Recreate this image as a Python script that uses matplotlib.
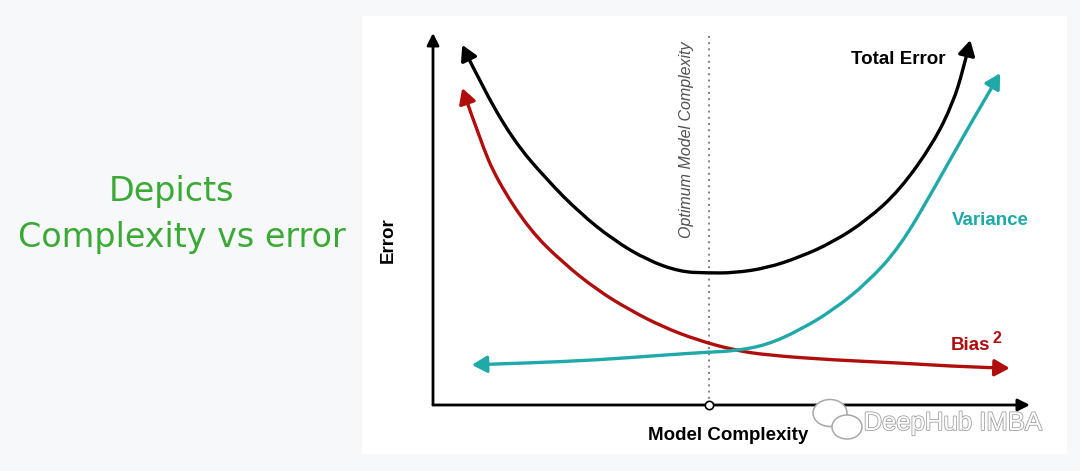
import matplotlib.pyplot as plt
from matplotlib.patches import FancyArrowPatch, Rectangle, Ellipse
from matplotlib.path import Path
import matplotlib.patheffects as pe

# 读图估计的曲线点 (模型复杂度 0-10, 误差 0-10)
total_x = [0.49, 0.79, 1.34, 1.91, 2.46, 3.02, 3.58, 4.14, 4.59, 5.03, 5.59, 6.15, 6.70, 7.27, 7.82, 8.38, 8.71, 8.88, 9.00]
total_y = [9.68, 8.66, 7.12, 6.05, 5.16, 4.44, 3.90, 3.58, 3.55, 3.55, 3.68, 3.98, 4.38, 4.97, 5.78, 7.04, 8.12, 9.01, 9.81]
bias_x = [0.49, 0.79, 1.07, 1.62, 2.18, 2.75, 3.30, 3.85, 4.42, 5.03, 5.59, 6.70, 7.82, 8.94, 9.66]
bias_y = [8.52, 7.12, 6.05, 4.70, 3.82, 3.09, 2.55, 2.10, 1.75, 1.48, 1.34, 1.21, 1.13, 1.02, 0.99]
var_x = [0.65, 1.62, 2.75, 3.85, 4.59, 5.03, 5.59, 6.15, 6.70, 7.27, 7.82, 8.38, 8.94, 9.50]
var_y = [1.08, 1.13, 1.21, 1.34, 1.42, 1.45, 1.61, 2.02, 2.55, 3.28, 4.25, 5.78, 7.39, 8.92]
optimum_x = 4.62

plot_font = 'Liberation Sans'
fig = plt.figure(figsize=(10.8, 4.71), dpi=100, facecolor='#f7f8fa')
# 白色面板
fig.add_artist(Rectangle((362/1080, 1-454/471), (1067-362)/1080, (454-16)/471,
                         transform=fig.transFigure, facecolor='white', edgecolor='none', zorder=0))

ax = fig.add_axes([433/1080, 1-405/471, (1030-433)/1080, (405-33)/471])
ax.set_xlim(0, 10)
ax.set_ylim(0, 10)
ax.axis('off')

# 坐标轴箭头
ax_arrow = dict(arrowstyle='-|>', lw=2, color='black', mutation_scale=18, shrinkA=0, shrinkB=0)
ax.annotate('', xy=(0, 10), xytext=(0, 0), arrowprops=ax_arrow, annotation_clip=False)
ax.annotate('', xy=(10, 0), xytext=(0, 0), arrowprops=ax_arrow, annotation_clip=False)

# 最优复杂度虚线
ax.plot([optimum_x, optimum_x], [0, 9.95], color='#808080', lw=1.4, ls=(0, (1, 2.2)), zorder=1)
ax.plot([optimum_x], [0], marker='o', ms=6, mfc='white', mec='black', mew=1.2, zorder=5, clip_on=False)

def smooth_path(xs, ys):
    # 二次贝塞尔平滑: 读出的点作控制点
    verts = [(xs[0], ys[0])]
    codes = [Path.MOVETO]
    n = len(xs)
    for i in range(1, n - 1):
        if i == n - 2:
            end = (xs[-1], ys[-1])
        else:
            end = ((xs[i] + xs[i+1]) / 2, (ys[i] + ys[i+1]) / 2)
        verts += [(xs[i], ys[i]), end]
        codes += [Path.CURVE3, Path.CURVE3]
    return Path(verts, codes)

def curve(xs, ys, color):
    p = FancyArrowPatch(path=smooth_path(xs, ys), arrowstyle='<|-|>,head_length=0.5,head_width=0.28',
                        mutation_scale=18, color=color, lw=2.4, shrinkA=0, shrinkB=0, zorder=3)
    ax.add_patch(p)

curve(total_x, total_y, 'black')
curve(bias_x, bias_y, '#b00d0d')
curve(var_x, var_y, '#1fa9a9')

ax.text(7.79, 9.30, 'Total Error', fontsize=13.5, fontweight='bold', family=plot_font, ha='center', va='center')
ax.text(9.33, 4.97, 'Variance', fontsize=13.5, fontweight='bold', family=plot_font, ha='center', va='center', color='#1fa9a9')
ax.text(8.68, 1.61, 'Bias', fontsize=13.5, fontweight='bold', family=plot_font, ha='left', va='center', color='#b00d0d')
ax.text(9.37, 1.80, '2', fontsize=11.5, fontweight='bold', family=plot_font, ha='left', va='center', color='#b00d0d')
ax.text(4.24, 7.12, 'Optimum Model Complexity', fontsize=11.5, style='italic', family=plot_font,
        rotation=90, ha='center', va='center', color='#505050')
ax.text(-0.75, 4.44, 'Error', fontsize=13.5, fontweight='bold', family=plot_font, rotation=90, ha='center', va='center')
ax.text(4.94, -0.81, 'Model Complexity', fontsize=13.5, fontweight='bold', family=plot_font, ha='center', va='center')

# 左侧手写说明
fig.text(172/1080, 1-191/471, 'Depicts', fontsize=24, color='#3aaa35', ha='center', va='center')
fig.text(182/1080, 1-238/471, 'Complexity vs error', fontsize=24, color='#3aaa35', ha='center', va='center')

# 水印
fig.add_artist(Ellipse((830/1080, 1-413/471), 34/1080, 27/471, transform=fig.transFigure,
                       facecolor='white', edgecolor='#a8a8a8', lw=1.1, zorder=6))
fig.add_artist(Ellipse((847/1080, 1-427/471), 30/1080, 24/471, transform=fig.transFigure,
                       facecolor='white', edgecolor='#a8a8a8', lw=1.1, zorder=7))
fig.text(953/1080, 1-423/471, 'DeepHub IMBA', fontsize=18.5, family=plot_font, color='white', ha='center', va='center',
         path_effects=[pe.Stroke(linewidth=1.2, foreground='#a0a0a0'), pe.Normal()], zorder=8)

fig.savefig('out.png', dpi=100, facecolor=fig.get_facecolor())
